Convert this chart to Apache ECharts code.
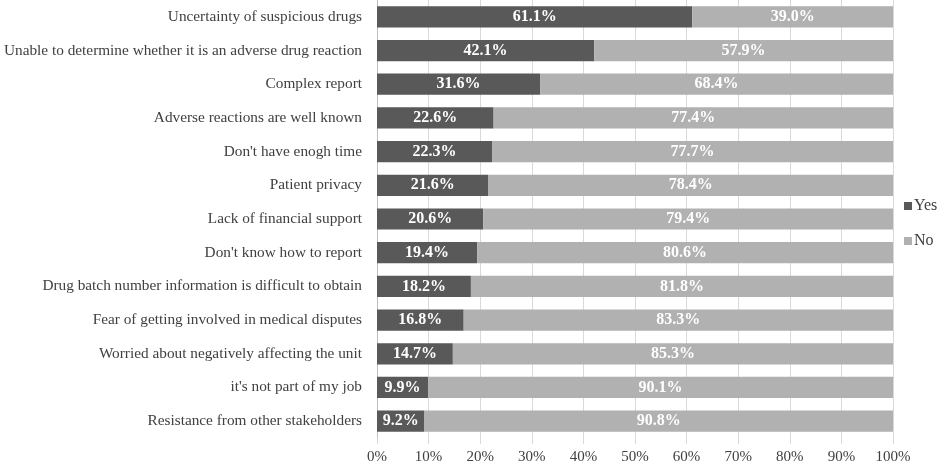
<!DOCTYPE html>
<html>
<head>
<meta charset="utf-8">
<script src="https://cdn.jsdelivr.net/npm/echarts@6/dist/echarts.min.js"></script>
<style>
  html, body { margin: 0; padding: 0; background: #fff; }
  #chart { width: 941px; height: 465px; }
</style>
</head>
<body>
<div id="chart"></div>
<script>
// categories top -> bottom
const categories = [
    'Uncertainty of suspicious drugs',
    'Unable to determine whether it is an adverse drug reaction',
    'Complex report',
    'Adverse reactions are well known',
    "Don't have enogh time",
    'Patient privacy',
    'Lack of financial support',
    "Don't know how to report",
    'Drug batch number information is difficult to obtain',
    'Fear of getting involved in medical disputes',
    'Worried about negatively affecting the unit',
    "it's not part of my job",
    'Resistance from other stakeholders'
]
const yesValues = [61.1, 42.1, 31.6, 22.6, 22.3, 21.6, 20.6, 19.4, 18.2, 16.8, 14.7, 9.9, 9.2]
const noValues  = [39.0, 57.9, 68.4, 77.4, 77.7, 78.4, 79.4, 80.6, 81.8, 83.3, 85.3, 90.1, 90.8]
const seriesNames = ['Yes', 'No']

const font = 'Liberation Serif, Times New Roman, serif'

let chart = echarts.init(document.getElementById('chart'))

// label inside each segment
const segLabel = {
    show: true,
    position: 'inside',
    color: '#fff',
    fontFamily: font,
    fontWeight: 'bold',
    fontSize: 16,
    formatter: p => p.value.toFixed(1) + '%'
}

let option = {
    animation: false,
    textStyle: { fontFamily: font },
    legend: {
        orient: 'vertical',
        left: 899,
        top: 193,
        itemWidth: 8,
        itemHeight: 8,
        itemGap: 19,
        icon: 'rect',
        textStyle: { fontFamily: font, fontSize: 16, color: '#404040', padding: [0, 0, 0, -3] },
        data: seriesNames
    },
    grid: { left: 377, right: 48, top: 0, bottom: 26 },
    xAxis: {
        type: 'value',
        min: 0,
        max: 100,
        interval: 10,
        axisLine: { show: false },
        axisTick: { show: true, length: 6, lineStyle: { color: '#d9d9d9' } },
        splitLine: { show: true, lineStyle: { color: '#d9d9d9', width: 1 } },
        axisLabel: { formatter: '{value}%', color: '#404040', fontSize: 15, fontFamily: font, margin: 12 }
    },
    yAxis: {
        type: 'category',
        inverse: true,
        data: categories,
        axisLine: { show: true, lineStyle: { color: '#bfbfbf' } },
        axisTick: { show: false },
        axisLabel: { color: '#404040', fontSize: 15.3, fontFamily: font, margin: 15 }
    },
    series: [
        {
            name: seriesNames[0],
            type: 'bar',
            stack: 'total',
            barWidth: '63%',
            itemStyle: { color: '#595959' },
            label: segLabel,
            data: yesValues
        },
        {
            name: seriesNames[1],
            type: 'bar',
            stack: 'total',
            barWidth: '63%',
            itemStyle: { color: '#b1b1b1' },
            label: segLabel,
            data: noValues
        }
    ]
}

chart.setOption(option)
</script>
</body>
</html>
